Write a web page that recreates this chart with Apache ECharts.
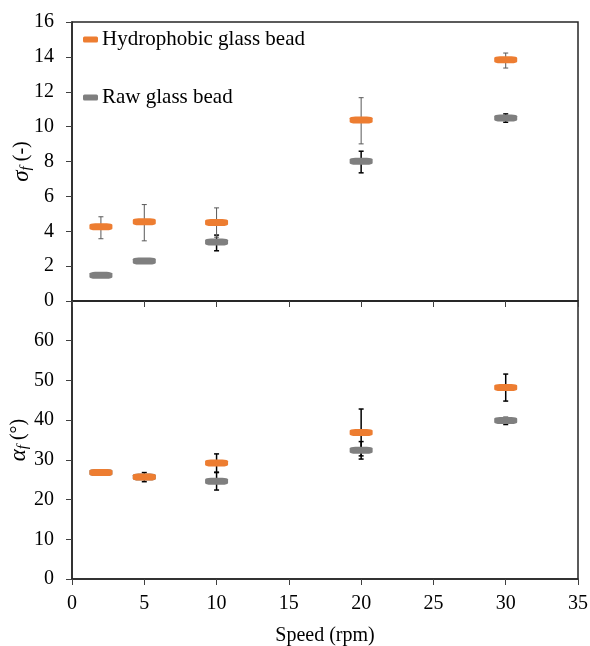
<!DOCTYPE html>
<html><head><meta charset="utf-8">
<script src="https://cdn.jsdelivr.net/npm/echarts@6/dist/echarts.min.js"></script>
<style>html,body{margin:0;padding:0;background:#fff}#c{width:590px;height:646px}</style>
</head><body><div id="c"></div>
<script>
const speeds = [2, 5, 10, 20, 30];
const xTicks = [0, 5, 10, 15, 20, 25, 30, 35];
const seriesNames = ['Hydrophobic glass bead', 'Raw glass bead'];

const sigmaHydro = [4.26, 4.54, 4.50, 10.38, 13.84];
const sigmaHydroLow = [3.57, 3.45, 3.66, 9.01, 13.36];
const sigmaHydroHigh = [4.83, 5.53, 5.34, 11.66, 14.22];
const sigmaRaw = [1.47, 2.29, 3.38, 8.02, 10.50];
const sigmaRawLow = [1.47, 2.29, 2.88, 7.35, 10.25];
const sigmaRawHigh = [1.47, 2.29, 3.78, 8.59, 10.73];

const alphaHydro = [26.8, 25.7, 29.2, 36.9, 48.2];
const alphaHydroLow = [26.8, 24.5, 26.9, 31.0, 44.8];
const alphaHydroHigh = [26.8, 26.8, 31.5, 42.8, 51.6];
const alphaRaw = [26.8, 25.7, 24.6, 32.4, 39.9];
const alphaRawLow = [26.8, 25.7, 22.4, 30.2, 38.9];
const alphaRawHigh = [26.8, 25.7, 26.8, 34.6, 40.7];

const FONT = 'Liberation Serif';
const ORANGE = '#ED7D31';
const GRAY = '#7F7F7F';

function pts(vals) { return speeds.map((s, i) => [s, vals[i]]); }
function errs(lo, hi) { return speeds.map((s, i) => [s, lo[i], hi[i]]); }

function errSeries(data, xi, color, w) {
  return {
    type: 'custom', xAxisIndex: xi, yAxisIndex: xi, z: 2, silent: true,
    encode: { x: 0, y: [1, 2] },
    data: data,
    renderItem: function (params, api) {
      const x = api.value(0), lo = api.value(1), hi = api.value(2);
      if (hi - lo < 1e-9) return null;
      const a = api.coord([x, lo]), b = api.coord([x, hi]);
      const st = { stroke: color, lineWidth: w };
      const c = 2.5;
      return { type: 'group', children: [
        { type: 'line', shape: { x1: a[0], y1: a[1], x2: b[0], y2: b[1] }, style: st },
        { type: 'line', shape: { x1: a[0] - c, y1: a[1], x2: a[0] + c, y2: a[1] }, style: st },
        { type: 'line', shape: { x1: b[0] - c, y1: b[1], x2: b[0] + c, y2: b[1] }, style: st }
      ]};
    }
  };
}

function markSeries(name, data, xi, color) {
  return {
    name: name, type: 'scatter', xAxisIndex: xi, yAxisIndex: xi, z: 3,
    symbol: 'roundRect', symbolSize: [23, 7],
    itemStyle: { color: color, opacity: 1 }, data: data
  };
}

const axisLine = { show: true, lineStyle: { color: '#262626', width: 1.5 } };
const tick = { show: true, inside: false, length: 6, lineStyle: { color: '#404040', width: 1 } };
const lbl = { fontFamily: FONT, fontSize: 20, color: '#000' };
const nameRich = {
  g: { fontFamily: FONT, fontSize: 23, fontStyle: 'italic', color: '#000' },
  s: { fontFamily: FONT, fontSize: 15, fontStyle: 'italic', color: '#000', padding: [9, 0, 0, 0] },
  n: { fontFamily: FONT, fontSize: 20, color: '#000' }
};

const chart = echarts.init(document.getElementById('c'), null, { renderer: 'canvas' });
chart.setOption({
  animation: false,
  backgroundColor: '#fff',
  grid: [
    { left: 72, right: 12, top: 22, height: 279, show: true, borderColor: '#262626', borderWidth: 1.5,
      containLabel: false, outerBoundsMode: 'none' },
    { left: 72, right: 12, top: 301, height: 278, show: true, borderColor: '#262626', borderWidth: 1.5,
      containLabel: false, outerBoundsMode: 'none' }
  ],
  legend: {
    data: seriesNames, orient: 'vertical', left: 83, top: 29, itemGap: 37, padding: 0,
    itemWidth: 15, itemHeight: 6, icon: 'roundRect',
    textStyle: { fontFamily: FONT, fontSize: 21, color: '#000', padding: [0, 0, 0, -1] }
  },
  xAxis: [
    { type: 'value', gridIndex: 0, min: 0, max: 35, interval: 5, axisLine: axisLine, axisTick: tick,
      axisLabel: { show: false }, splitLine: { show: false } },
    { type: 'value', gridIndex: 1, min: 0, max: 35, interval: 5, axisLine: axisLine, axisTick: tick,
      axisLabel: Object.assign({ margin: 15 }, lbl), splitLine: { show: false },
      name: 'Speed (rpm)', nameLocation: 'middle', nameGap: 47, nameMoveOverlap: false,
      nameTextStyle: { fontFamily: FONT, fontSize: 20, color: '#000' } }
  ],
  yAxis: [
    { type: 'value', gridIndex: 0, min: 0, max: 16, interval: 2, axisLine: axisLine, axisTick: tick,
      axisLabel: Object.assign({ margin: 18 }, lbl), splitLine: { show: false },
      name: '{g|σ}{s|f}{n| (-)}', nameLocation: 'middle', nameGap: 38, nameRotate: 90, nameMoveOverlap: false,
      nameTextStyle: { rich: nameRich } },
    { type: 'value', gridIndex: 1, min: 0, max: 70, interval: 10, axisLine: axisLine, axisTick: tick,
      axisLabel: Object.assign({ margin: 18, formatter: v => (v >= 70 ? '' : String(v)) }, lbl),
      splitLine: { show: false },
      name: '{g|α}{s|f}{n| (°)}', nameLocation: 'middle', nameGap: 41, nameRotate: 90, nameMoveOverlap: false,
      nameTextStyle: { rich: nameRich } }
  ],
  series: [
    errSeries(errs(sigmaRawLow, sigmaRawHigh), 0, '#000', 1.5),
    errSeries(errs(sigmaHydroLow, sigmaHydroHigh), 0, '#595959', 1),
    markSeries(seriesNames[1], pts(sigmaRaw), 0, GRAY),
    markSeries(seriesNames[0], pts(sigmaHydro), 0, ORANGE),
    errSeries(errs(alphaRawLow, alphaRawHigh), 1, '#000', 1.5),
    errSeries(errs(alphaHydroLow, alphaHydroHigh), 1, '#000', 1.5),
    markSeries(seriesNames[1], pts(alphaRaw), 1, GRAY),
    markSeries(seriesNames[0], pts(alphaHydro), 1, ORANGE)
  ]
});
</script></body></html>
